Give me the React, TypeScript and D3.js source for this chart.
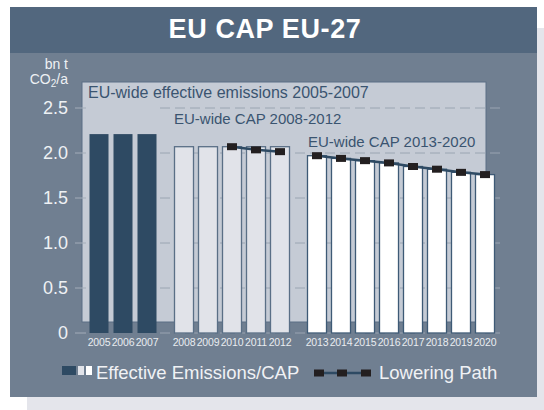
import React from 'react';
import * as d3 from 'd3';

// years on the x axis, grouped into the three trading periods
const years = [2005, 2006, 2007, 2008, 2009, 2010, 2011, 2012, 2013, 2014, 2015, 2016, 2017, 2018, 2019, 2020];
const periods = [0, 0, 0, 1, 1, 1, 1, 1, 2, 2, 2, 2, 2, 2, 2, 2];
// bar heights, bn t CO2 per year
const barValues = [2.21, 2.21, 2.21, 2.07, 2.07, 2.07, 2.07, 2.07, 1.97, 1.94, 1.915, 1.89, 1.85, 1.82, 1.785, 1.76];
// lowering path (two pieces)
const pathYears1 = [2010, 2011, 2012];
const pathValues1 = [2.07, 2.035, 2.015];
const pathYears2 = [2013, 2014, 2015, 2016, 2017, 2018, 2019, 2020];
const pathValues2 = [1.97, 1.94, 1.915, 1.89, 1.85, 1.82, 1.785, 1.76];
const yTicks = [0, 0.5, 1.0, 1.5, 2.0, 2.5];
const periodLabels = ['EU-wide effective emissions 2005-2007', 'EU-wide CAP 2008-2012', 'EU-wide CAP 2013-2020'];

const FONT = '"Liberation Sans", Arial, Helvetica, sans-serif';
const barFill = ['#2e4a63', '#e1e3e9', '#ffffff'];
const barStroke = ['#2e4a63', '#5a6f86', '#3e5a76'];

export default function App() {
  // slot position: index plus extra space between periods
  const slot = (i: number) => i + periods[i] * (13 / 24);
  const x = d3.scaleLinear().domain([0, 1]).range([99, 123]);
  const y = d3.scaleLinear().domain([0, 2.5]).range([333, 108]);
  const bw = 19;
  const xYear = (yr: number) => x(slot(years.indexOf(yr)));

  const line = d3.line<[number, number]>().x(d => xYear(d[0])).y(d => y(d[1]));
  const seg1 = pathYears1.map((yr, i) => [yr, pathValues1[i]] as [number, number]);
  const seg2 = pathYears2.map((yr, i) => [yr, pathValues2[i]] as [number, number]);

  const labelPos = [
    { x: 88, y: 98, fs: 16 },
    { x: 174, y: 124, fs: 15 },
    { x: 308, y: 147, fs: 15 },
  ];

  return (
    <svg width={544} height={410} style={{ position: 'absolute', left: 0, top: 0 }} fontFamily={FONT}>
      <rect x={0} y={0} width={544} height={410} fill="#ffffff" />
      {/* shadow */}
      <rect x={27} y={28} width={517} height={382} fill="#e4e5eb" />
      {/* panel */}
      <rect x={10} y={7} width={527} height={390} fill="#707f91" />
      <rect x={10} y={7} width={527} height={46} fill="#52677e" />
      <text x={265} y={38} textAnchor="middle" fill="#ffffff" fontSize={27} fontWeight="bold" letterSpacing={0.6}>
        EU CAP EU-27
      </text>

      {/* unit */}
      <text x={68} y={69} textAnchor="end" fill="#eef1f4" fontSize={14}>bn t</text>
      <text x={68} y={84} textAnchor="end" fill="#eef1f4" fontSize={14}>
        CO<tspan fontSize={10} dy={3}>2</tspan><tspan dy={-3}>/a</tspan>
      </text>

      {/* plot background */}
      <rect x={82} y={82} width={404} height={240} fill="#c5cbd5" stroke="#5b6f85" strokeWidth={1} />

      {/* grid and ticks */}
      {yTicks.map(t => (
        <g key={t}>
          <line x1={75} x2={86} y1={y(t)} y2={y(t)} stroke="#a3adb9" strokeWidth={1} />
          <line x1={160} x2={505} y1={y(t)} y2={y(t)} stroke="#9aa5b2" strokeWidth={1} strokeDasharray="10 5" />
          <text x={68} y={y(t) + 6} textAnchor="end" fill="#eef1f4" fontSize={18}>
            {t === 0 ? '0' : t.toFixed(1)}
          </text>
        </g>
      ))}

      {/* period labels */}
      {periodLabels.map((s, i) => (
        <text key={s} x={labelPos[i].x} y={labelPos[i].y} fill="#3a5470" fontSize={labelPos[i].fs}>{s}</text>
      ))}

      {/* bars */}
      {years.map((yr, i) => (
        <rect
          key={yr}
          x={x(slot(i)) - bw / 2}
          y={y(barValues[i])}
          width={bw}
          height={y(0) - y(barValues[i])}
          fill={barFill[periods[i]]}
          stroke={barStroke[periods[i]]}
          strokeWidth={periods[i] === 0 ? 0 : 1.3}
        />
      ))}

      {/* x labels */}
      {years.map((yr, i) => (
        <text key={yr} x={x(slot(i))} y={346} textAnchor="middle" fill="#e8ecf0" fontSize={10.5} letterSpacing={-0.2}>
          {yr}
        </text>
      ))}

      {/* lowering path */}
      {[seg1, seg2].map((seg, k) => (
        <g key={k}>
          <path d={line(seg) || ''} fill="none" stroke="#2e4a63" strokeWidth={2.5} />
          {seg.map(d => (
            <rect key={d[0]} x={xYear(d[0]) - 5} y={y(d[1]) - 3.5} width={10} height={7} fill="#231f20" />
          ))}
        </g>
      ))}

      {/* legend */}
      <rect x={62} y={366} width={14} height={9} fill="#2e4a63" />
      <rect x={78} y={366} width={6} height={9} fill="#e1e3e9" />
      <rect x={86} y={366} width={6} height={9} fill="#ffffff" />
      <text x={96} y={379} fill="#f0f2f5" fontSize={18.5}>Effective Emissions/CAP</text>

      <line x1={315} x2={371} y1={373} y2={373} stroke="#2e4a63" strokeWidth={2.5} />
      {[319, 342, 366].map(cx => (
        <rect key={cx} x={cx - 5} y={369.5} width={10} height={7} fill="#231f20" />
      ))}
      <text x={379} y={379} fill="#f0f2f5" fontSize={18.5}>Lowering Path</text>
    </svg>
  );
}
